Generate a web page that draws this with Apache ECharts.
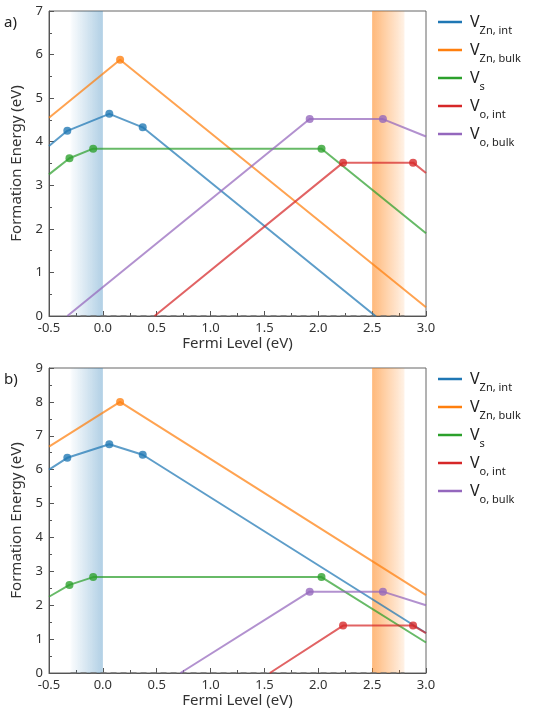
<!DOCTYPE html>
<html><head><meta charset="utf-8">
<script src="https://cdn.jsdelivr.net/npm/echarts@6/dist/echarts.min.js"></script>
<style>html,body{margin:0;background:#fff}#main{width:558px;height:714px}</style>
</head><body><div id="main"></div>
<script>
// defect lines, [fermi level, formation energy]
var names = ['V_Zn,int', 'V_Zn,bulk', 'V_s', 'V_o,int', 'V_o,bulk'];
var colors = ['#1f77b4', '#ff7f0e', '#2ca02c', '#d62728', '#9467bd'];
var panelA = [
  [[-0.5,3.9],[-0.33,4.25],[0.06,4.64],[0.37,4.33],[2.53,0]],
  [[-0.5,4.55],[0.16,5.88],[3.0,0.2]],
  [[-0.5,3.25],[-0.31,3.62],[-0.09,3.84],[2.03,3.84],[3.0,1.9]],
  [[0.48,0],[2.23,3.52],[2.88,3.52],[3.0,3.28]],
  [[-0.33,0],[1.92,4.52],[2.6,4.52],[3.0,4.12]]
];
var panelB = [
  [[-0.5,6.0],[-0.33,6.35],[0.06,6.75],[0.37,6.44],[3.0,1.18]],
  [[-0.5,6.68],[0.16,8.0],[3.0,2.3]],
  [[-0.5,2.25],[-0.31,2.6],[-0.09,2.83],[2.03,2.83],[3.0,0.9]],
  [[1.55,0],[2.23,1.4],[2.88,1.4],[3.0,1.18]],
  [[0.72,0],[1.92,2.4],[2.6,2.4],[3.0,2.0]]
];
// which points carry a marker
var markerIdx = [[1,2,3],[1],[1,2,3],[1,2],[1,2]];
var yMax = [7, 9];
var vbm = [-0.3, 0], cbm = [2.5, 2.8];

var font = 'Noto Sans';
var tops = [11, 368], h = 305;
var grids = [], xAxes = [], yAxes = [], series = [], graphics = [];

function legendLabel(n) {
  var p = n.split('_');
  return '{m|' + p[0] + '}{s|' + p[1].replace(',', ', ') + '}';
}

[panelA, panelB].forEach(function (panel, g) {
  grids.push({left: 49, width: 377, top: tops[g], height: h, show: true,
    borderColor: '#666', borderWidth: 1, backgroundColor: 'transparent'});
  xAxes.push({gridIndex: g, type: 'value', min: -0.5, max: 3.0, interval: 0.5,
    name: 'Fermi Level (eV)', nameLocation: 'middle', nameGap: 20,
    nameTextStyle: {fontFamily: font, fontSize: 15, color: '#333'},
    axisLine: {show: true, onZero: false, lineStyle: {color: '#555'}},
    axisTick: {inside: true, lineStyle: {color: '#555'}},
    minorTick: {show: true, splitNumber: 2, length: 3},
    axisLabel: {fontFamily: font, fontSize: 13, color: '#333', margin: 6,
      formatter: function (v) { return v.toFixed(1); }},
    splitLine: {show: false}});
  yAxes.push({gridIndex: g, type: 'value', min: 0, max: yMax[g], interval: 1,
    name: 'Formation Energy (eV)', nameLocation: 'middle', nameGap: 24,
    nameTextStyle: {fontFamily: font, fontSize: 15, color: '#333'},
    axisLine: {show: true, onZero: false, lineStyle: {color: '#555'}},
    axisTick: {inside: true, lineStyle: {color: '#555'}},
    minorTick: {show: true, splitNumber: 2, length: 3},
    axisLabel: {fontFamily: font, fontSize: 13, color: '#333', margin: 6},
    splitLine: {show: false}});
  // band edges + zero line
  series.push({type: 'line', xAxisIndex: g, yAxisIndex: g, data: [[-0.3,0],[2.8,0]],
    showSymbol: false, silent: true, z: 1,
    lineStyle: {color: '#777', type: [6, 4], width: 1.5},
    markArea: {silent: true, data: [
      [{xAxis: vbm[0], itemStyle: {color: new echarts.graphic.LinearGradient(0,0,1,0,
        [{offset: 0, color: 'rgba(31,119,180,0.02)'}, {offset: 1, color: 'rgba(31,119,180,0.35)'}])}}, {xAxis: vbm[1]}],
      [{xAxis: cbm[0], itemStyle: {color: new echarts.graphic.LinearGradient(0,0,1,0,
        [{offset: 0, color: 'rgba(255,127,14,0.55)'}, {offset: 1, color: 'rgba(255,127,14,0.1)'}])}}, {xAxis: cbm[1]}]
    ]}});
  panel.forEach(function (pts, i) {
    series.push({type: 'line', name: names[i], xAxisIndex: g, yAxisIndex: g, data: pts,
      showSymbol: false, clip: true, z: 3, color: colors[i],
      lineStyle: {width: 2, color: colors[i], opacity: 0.72}});
    series.push({type: 'scatter', xAxisIndex: g, yAxisIndex: g, z: 4, symbolSize: 8,
      data: markerIdx[i].map(function (k) { return pts[k]; }),
      itemStyle: {color: colors[i], opacity: 0.78}});
  });
  names.forEach(function (n, i) {
    var y = tops[g] + 11 + i * 28;
    graphics.push({type: 'line', shape: {x1: 438, y1: y, x2: 462, y2: y},
      style: {stroke: colors[i], lineWidth: 2.5}});
    graphics.push({type: 'text', x: 470, y: y - 10,
      style: {text: legendLabel(n), rich: {
        m: {fontFamily: font, fontSize: 16, fill: '#222', verticalAlign: 'bottom', height: 20},
        s: {fontFamily: font, fontSize: 11, fill: '#222', verticalAlign: 'bottom', padding: [0,0,-4,0]}}}});
  });
  graphics.push({type: 'text', left: 4, top: tops[g] + 4,
    style: {text: g ? 'b)' : 'a)', fontFamily: font, fontSize: 15, fill: '#222'}});
});

var chart = echarts.init(document.getElementById('main'));
chart.setOption({animation: false, grid: grids, xAxis: xAxes, yAxis: yAxes,
  series: series, graphic: graphics});
</script>
</body></html>
